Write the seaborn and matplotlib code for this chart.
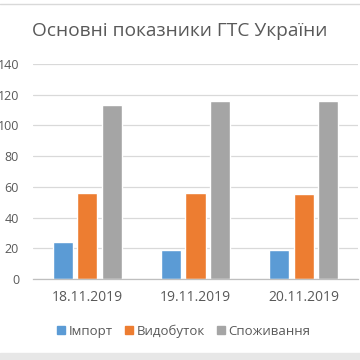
import numpy as np
import pandas as pd
import matplotlib.pyplot as plt
import seaborn as sns

# --- дані ---
dates = ["18.11.2019", "19.11.2019", "20.11.2019"]
series = ["Імпорт", "Видобуток", "Споживання"]
import_vals = [24.3, 18.9, 19.1]
production_vals = [55.8, 55.8, 55.4]
consumption_vals = [113.6, 116.1, 116.1]
colors = ["#5B9BD5", "#ED7D31", "#A5A5A5"]

df = pd.DataFrame({
    "date": dates * 3,
    "series": [series[0]] * 3 + [series[1]] * 3 + [series[2]] * 3,
    "value": import_vals + production_vals + consumption_vals,
})

sns.set_theme(style="white")
plt.rcParams['font.family'] = ['Open Sans', 'DejaVu Sans']

fig = plt.figure(figsize=(3.6, 3.6), dpi=100)
ax = fig.add_axes([33 / 360, 81 / 360, 325 / 360, 215 / 360])

sns.barplot(data=df, x="date", y="value", hue="series", order=dates,
            hue_order=series, palette=colors, width=0.68, gap=0.18,
            saturation=1, ax=ax, legend=False)

ax.set_xlim(-0.5, 2.5)
ax.set_ylim(0, 140)
ax.set_yticks(np.arange(0, 141, 20))
ax.yaxis.grid(True, color="#d9d9d9", linewidth=0.9)
ax.set_axisbelow(True)
for s in ["top", "right", "left"]:
    ax.spines[s].set_visible(False)
ax.spines["bottom"].set_color("#bfbfbf")
ax.spines["bottom"].set_linewidth(0.9)

ax.set_xlabel("")
ax.set_ylabel("")
ax.tick_params(axis="y", length=0, pad=10, labelsize=9, labelcolor="#595959")
ax.tick_params(axis="x", length=0, pad=8, labelsize=10, labelcolor="#595959")
ax.set_xticks([-0.5, 0.5, 1.5, 2.5], minor=True)
ax.tick_params(axis="x", which="minor", length=4, color="#bfbfbf", width=0.9)

fig.text(0.5, 1 - 31 / 360, "Основні показники ГТС України", ha="center",
         va="center", fontsize=13.8, color="#595959")

handles = [plt.Rectangle((0, 0), 1, 1, color=c) for c in colors]
fig.legend(handles, series, loc="center", bbox_to_anchor=(0.51, 1 - 331 / 360),
           ncol=3, frameon=False, fontsize=9.5, handlelength=0.65,
           handleheight=0.65, handletextpad=0.25, columnspacing=0.9,
           labelcolor="#595959")

# рамка скріншота
fig.add_artist(plt.Line2D([0, 1], [1 - 4 / 360, 1 - 4 / 360], color="#d9d9d9", linewidth=1))
fig.add_artist(plt.Rectangle((0, 0), 1, 7 / 360, color="#e7e7e7", transform=fig.transFigure))

fig.savefig("out.png", dpi=100)
